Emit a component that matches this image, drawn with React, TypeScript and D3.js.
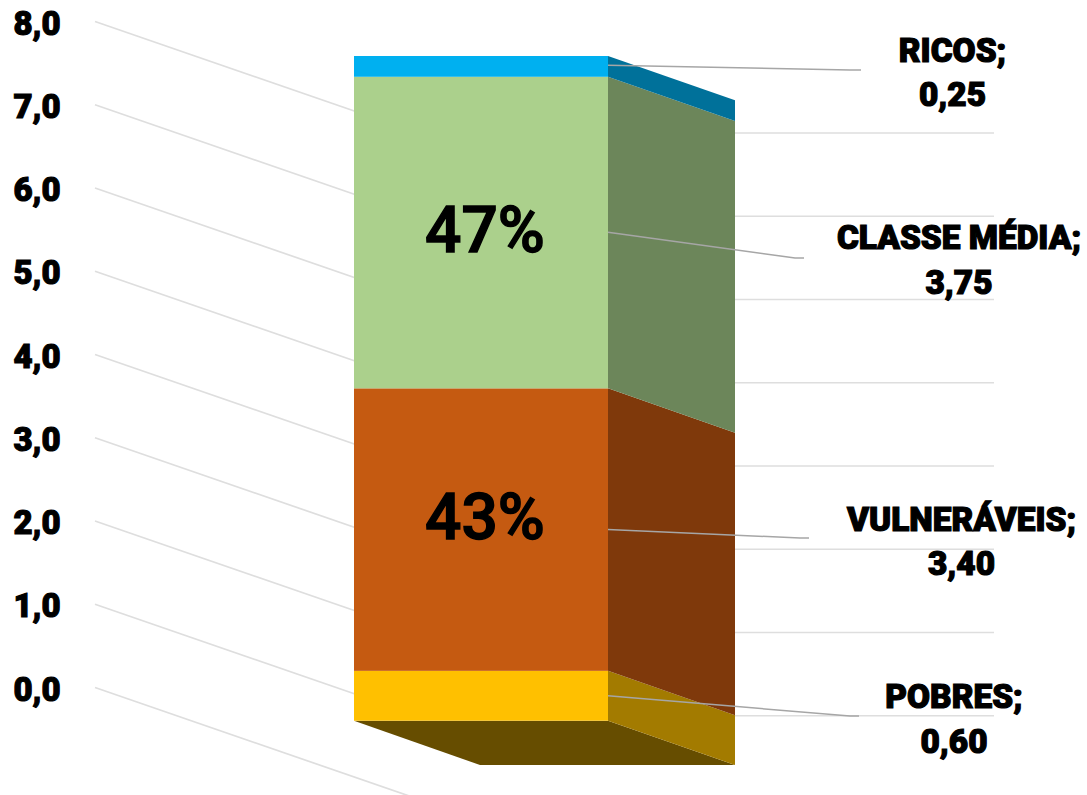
import React from "react";
import * as d3 from "d3";

const categories = ["POBRES", "VULNERÁVEIS", "CLASSE MÉDIA", "RICOS"];
const values = [0.6, 3.4, 3.75, 0.25];
const valueLabels = ["0,60", "3,40", "3,75", "0,25"];
const percentLabels = ["", "43%", "47%", ""];
const percentAnchors = [0, 2.19, 5.64, 0];
const frontColors = ["#FFC000", "#C55A11", "#ABD08C", "#00B0F0"];
const sideColors = ["#A37B00", "#7F390B", "#6C865A", "#00719A"];
const floorColor = "#664D00";
const ticks = [0, 1, 2, 3, 4, 5, 6, 7, 8];
const tickLabels = ["0,0", "1,0", "2,0", "3,0", "4,0", "5,0", "6,0", "7,0", "8,0"];

const W = 1087, H = 795;
const yFront = d3.scaleLinear().domain([0, 8]).range([720.7, 56]);
const yLeft = d3.scaleLinear().domain([0, 8]).range([687.5, 21.5]);
const yBack = d3.scaleLinear().domain([0, 8]).range([799, 133]);
const x0 = 354, x1 = 608, dx = 127, dy = 44.3;
const wallLeft = 95, wallCorner = 418, wallRight = 994;

const leaderAnchors = [0.3, 2.3, 5.88, 7.89];
const leaderElbowX = [850, 800, 795, 850];
const leaderEndX = [859, 809, 804, 861];
const leaderEndY = [716, 538, 258, 70];
const labelCx = [954, 961.5, 959, 952.5];
const labelY = [708, 530.5, 249, 61.5];
const starts = d3.cumsum([0, ...values]);
const line = d3.line();
const poly = (pts: [number, number][]) => line(pts) + "Z";
const font = "Roboto, sans-serif";

export default function App() {
  return (
    <svg width={W} height={H} style={{ position: "absolute", left: 0, top: 0, background: "#fff" }}>
      <g stroke="#DEDEDE" strokeWidth={1.7} fill="none">
        {ticks.map((t) => (
          <g key={t}>
            <path d={line([[wallLeft, yLeft(t)], [wallCorner, yBack(t)]])!} />
            <path d={line([[wallCorner, yBack(t)], [wallRight, yBack(t)]])!} />
          </g>
        ))}
      </g>
      <path d={poly([[x0, yFront(0)], [x1, yFront(0)], [x1 + dx, yFront(0) + dy], [x0 + dx - 1, yFront(0) + dy]])} fill={floorColor} />
      {values.map((v, i) => {
        const a = yFront(starts[i]), b = yFront(starts[i] + v);
        return (
          <g key={categories[i]}>
            <path d={poly([[x1, a], [x1 + dx, a + dy], [x1 + dx, b + dy], [x1, b]])} fill={sideColors[i]} />
            <rect x={x0} y={b} width={x1 - x0} height={a - b} fill={frontColors[i]} />
          </g>
        );
      })}
      <g stroke="#A6A6A6" strokeWidth={1.5} fill="none">
        {categories.map((c, i) => (
          <path key={c} d={line([[x1, yFront(leaderAnchors[i])], [leaderElbowX[i], leaderEndY[i]], [leaderEndX[i], leaderEndY[i]]])!} />
        ))}
      </g>
      <g fontFamily={font} fontWeight={900} fill="#000" stroke="#000" textAnchor="middle">
        {ticks.map((t, i) => (
          <text key={t} x={37} y={yLeft(t) + 13} fontSize={33} strokeWidth={1.1}>{tickLabels[i]}</text>
        ))}
        {categories.map((c, i) => (
          <text key={c} fontSize={33.4} strokeWidth={1.2}>
            <tspan x={labelCx[i]} y={labelY[i]}>{c};</tspan>
            <tspan x={labelCx[i]} dy={44.5}>{valueLabels[i]}</tspan>
          </text>
        ))}
      </g>
      <g fontFamily={font} fontWeight={500} fill="#000" stroke="#000" strokeWidth={1.4} textAnchor="middle" fontSize={64}>
        {values.map((v, i) => percentLabels[i] ? (
          <text key={i} x={485} y={yFront(percentAnchors[i])}>{percentLabels[i]}</text>
        ) : null)}
      </g>
    </svg>
  );
}
